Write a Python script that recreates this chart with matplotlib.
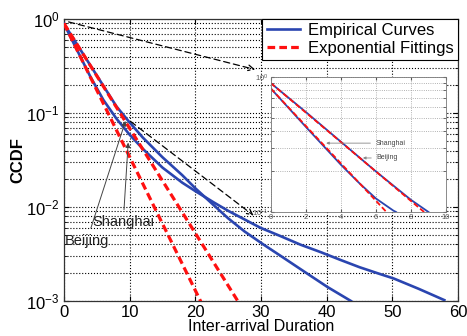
import numpy as np
import matplotlib
matplotlib.use('Agg')
import matplotlib.pyplot as plt
import matplotlib.ticker as ticker

plt.rcParams['font.family'] = ['Liberation Sans', 'DejaVu Sans']
plt.rcParams['mathtext.default'] = 'regular'

# ---- main chart data (log10 of CCDF) ----
sh_x = [0, 2, 4, 6, 8, 10, 12, 15, 18, 20, 22.8, 25, 29.9, 33, 36, 39.1, 42, 45, 48, 50.2, 54, 57.9]
sh_log = [-0.05, -0.33, -0.61, -0.86, -1.06, -1.23, -1.38, -1.58, -1.74, -1.83, -1.95, -2.04,
          -2.22, -2.31, -2.40, -2.48, -2.56, -2.64, -2.71, -2.76, -2.87, -2.99]
bj_x = [0, 2, 4, 6, 8, 10, 12, 15, 18, 20, 22.8, 25, 27.5, 30.4, 33, 36, 40.1, 43.7]
bj_log = [-0.05, -0.27, -0.49, -0.71, -0.93, -1.10, -1.26, -1.47, -1.66, -1.80, -1.98, -2.12,
          -2.26, -2.40, -2.52, -2.66, -2.85, -3.0]

# exponential fits: endpoints of straight lines (log10)
sh_fit_x = [0, 21.0]
sh_fit_log = [-0.046, -3.03]
bj_fit_x = [0, 27.0]
bj_fit_log = [-0.046, -3.06]

# ---- inset data ----
ish_x = [0, 2, 4, 5, 6, 7, 7.15]
ish_log = [-0.086, -0.37, -0.65, -0.78, -0.90, -0.99, -1.0]
ibj_x = [0, 2, 4, 6, 8, 9.0]
ibj_log = [-0.046, -0.26, -0.48, -0.70, -0.91, -1.0]
ish_fit_x = [0, 6.6]
ish_fit_log = [-0.086, -1.0]
ibj_fit_x = [0, 8.75]
ibj_fit_log = [-0.046, -1.0]

# annotation anchors (data coords)
bj_tip, bj_txt = (9.5, 0.088), (0.1, 0.0044)
sh_tip, sh_txt = (9.8, 0.052), (4.3, 0.0069)
zoom1 = ((0.3, 0.95), (29.5, 0.286))
zoom2 = ((9.8, 0.085), (29.2, 0.0078))

blue = '#2a45b0'
red = '#ff1010'

fig = plt.figure(figsize=(4.67, 3.36), dpi=100)
ax = fig.add_axes([0.137, 0.104, 0.844, 0.839])

ax.plot(sh_x, 10 ** np.array(sh_log), color=blue, lw=1.9, zorder=3)
ax.plot(bj_x, 10 ** np.array(bj_log), color=blue, lw=1.9, zorder=3, label='Empirical Curves')
ax.plot(sh_fit_x, 10 ** np.array(sh_fit_log), color=red, lw=2.3, dashes=(2.4, 1.3), zorder=4,
        label='Exponential Fittings')
ax.plot(bj_fit_x, 10 ** np.array(bj_fit_log), color=red, lw=2.3, dashes=(2.4, 1.3), zorder=4)

ax.set_yscale('log')
ax.set_xlim(0, 60)
ax.set_ylim(1e-3, 1)
ax.xaxis.set_major_locator(ticker.MultipleLocator(10))
ax.yaxis.set_minor_locator(ticker.LogLocator(subs=np.arange(2, 10)))
ax.yaxis.set_minor_formatter(ticker.NullFormatter())
ax.grid(True, which='major', color='k', linestyle=':', linewidth=0.8)
ax.grid(True, which='minor', axis='y', color='k', linestyle=':', linewidth=0.8)
ax.tick_params(which='both', direction='in', top=True, right=True, labelsize=12, pad=3)
for s in ax.spines.values():
    s.set_linewidth(0.9)
    s.set_color('#333333')

ax.set_xlabel('Inter-arrival Duration', fontsize=11.5, labelpad=-1)
ax.set_ylabel('CCDF', fontsize=12, fontweight='bold', labelpad=1)

arrowprops = dict(arrowstyle='-|>', color='#444444', lw=0.7, mutation_scale=7)
ax.annotate('Beijing', xy=bj_tip, xytext=bj_txt, fontsize=10.5, color='#222222',
            arrowprops=arrowprops, va='center', zorder=6)
ax.annotate('Shanghai', xy=sh_tip, xytext=sh_txt, fontsize=10.5, color='#222222',
            arrowprops=arrowprops, va='center', zorder=6)

for a, b in (zoom1, zoom2):
    ax.annotate('', xy=b, xytext=a,
                arrowprops=dict(arrowstyle='->', color='k', lw=0.9, linestyle=(0, (5, 3)),
                                mutation_scale=10))

leg = ax.legend(loc='upper right', fontsize=12, borderaxespad=0, handlelength=2.0,
                fancybox=False, framealpha=1, edgecolor='k', borderpad=0.25,
                labelspacing=0.15, handletextpad=0.5)
leg.get_frame().set_linewidth(0.8)
leg.set_zorder(10)

# ---- inset ----
ins = fig.add_axes([0.580, 0.369, 0.375, 0.402])
ins.set_facecolor('white')
ins.plot(ish_x, 10 ** np.array(ish_log), color=blue, lw=1.3)
ins.plot(ibj_x, 10 ** np.array(ibj_log), color=blue, lw=1.3)
ins.plot(ish_fit_x, 10 ** np.array(ish_fit_log), color=red, lw=1.3, dashes=(3, 1.5))
ins.plot(ibj_fit_x, 10 ** np.array(ibj_fit_log), color=red, lw=1.3, dashes=(3, 1.5))
ins.set_yscale('log')
ins.set_xlim(0, 10)
ins.set_ylim(0.1, 1)
ins.xaxis.set_major_locator(ticker.MultipleLocator(2))
ins.yaxis.set_minor_locator(ticker.LogLocator(subs=np.arange(2, 10)))
ins.yaxis.set_minor_formatter(ticker.NullFormatter())
ins.grid(True, which='major', color='#999999', linestyle=':', linewidth=0.6)
ins.grid(True, which='minor', axis='y', color='#999999', linestyle=':', linewidth=0.6)
ins.tick_params(which='both', direction='in', labelsize=5.5, pad=1.5, length=2,
                colors='#555555', top=True, right=True)
for s in ins.spines.values():
    s.set_linewidth(0.6)
    s.set_color('#777777')

iarrow = dict(arrowstyle='-|>', color='#888888', lw=0.6, mutation_scale=4)
ins.annotate('Shanghai', xy=(3.0, 10 ** -0.49), xytext=(6.0, 10 ** -0.49), fontsize=5,
             color='#444444', va='center', arrowprops=iarrow)
ins.annotate('Beijing', xy=(5.1, 10 ** -0.60), xytext=(6.05, 10 ** -0.60), fontsize=5,
             color='#444444', va='center', arrowprops=iarrow)

fig.savefig('out.png', dpi=100)
